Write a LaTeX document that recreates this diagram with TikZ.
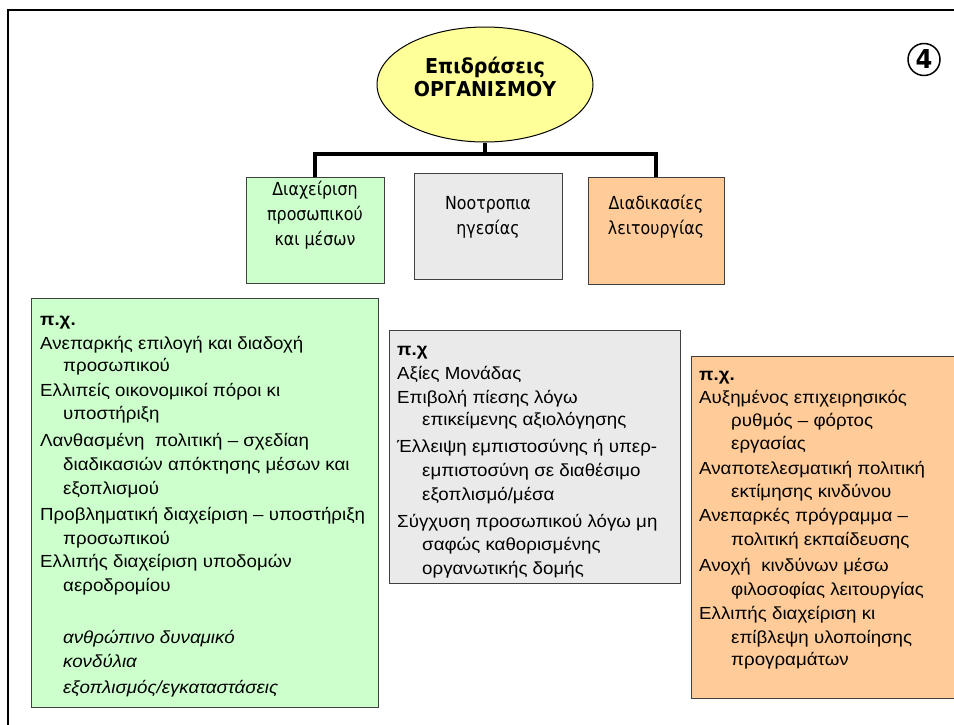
\documentclass[tikz,border=0pt]{standalone}
\usepackage{fontspec}
\setmainfont[FakeStretch=1.07]{Liberation Sans}
\newfontfamily\headfont[FakeStretch=0.88]{DejaVu Sans}
\newfontfamily\titlefont[FakeStretch=0.93]{DejaVu Sans}
\usetikzlibrary{shapes.geometric}

\definecolor{yellowfill}{HTML}{FFFF99}
\definecolor{greenfill}{HTML}{CCFFCC}
\definecolor{grayfill}{HTML}{EAEAEA}
\definecolor{orangefill}{HTML}{FFCC99}
\definecolor{edgegray}{HTML}{404040}

\tikzset{
  frameline/.style={line width=2.5pt, black},
  link/.style={line width=3.5pt, black},
  rootnode/.style={ellipse, draw=black, line width=1pt, fill=yellowfill,
    minimum width=216pt, minimum height=115pt, inner sep=0pt},
  roottext/.style={font=\titlefont\bfseries\fontsize{20.5}{23}\selectfont,
    align=center, inner sep=0pt},
  topbox/.style={rectangle, draw=edgegray, line width=0.9pt, inner sep=0pt},
  toptext/.style={font=\headfont\fontsize{18}{25}\selectfont,
    align=center, inner sep=0pt},
  bigbox/.style={rectangle, draw=edgegray, line width=1pt, inner sep=0pt},
  bodytext/.style={font=\fontsize{17.5}{22}\selectfont, inner sep=0pt,
    anchor=base west},
}

\begin{document}
\begin{tikzpicture}[x=1pt,y=-1pt]
\path[use as bounding box] (0,0) rectangle (954,724);
\fill[white] (0,0) rectangle (954,724);

% page frame (left and top edges)
\draw[frameline] (8,725) -- (8,10) -- (956,10);

% central ellipse
\node[rootnode] (root) at (485,84.5) {};
\node[roottext] (rootlbl) at (485,76.5) {Επιδράσεις\\ΟΡΓΑΝΙΣΜΟΥ};

% section number
\node[circle, draw=black, line width=1.5pt, minimum size=32pt, inner sep=0pt,
  font=\titlefont\bfseries\fontsize{26}{26}\selectfont] (num) at (924,59.5) {4};

% three category boxes
\node[topbox, fill=greenfill, minimum width=138pt, minimum height=106pt] (t1) at (315,230) {};
\node[topbox, fill=grayfill, minimum width=148pt, minimum height=106pt] (t2) at (488,226) {};
\node[topbox, fill=orangefill, minimum width=136pt, minimum height=107pt] (t3) at (656,230.5) {};
\node[toptext] (t1txt) at (315,215) {Διαχείριση\\προσωπικού\\και μέσων};
\node[toptext] (t2txt) at (488,217) {Νοοτροπια\\ηγεσίας};
\node[toptext] (t3txt) at (656,217) {Διαδικασίες\\λειτουργίας};

% tree connector
\coordinate (bar) at (0,154);
\draw[link] (root.south) -- (root.south |- bar) -| (t1.north);
\draw[link] (root.south |- bar) -| (t3.north);

% example boxes
\node[bigbox, fill=greenfill, minimum width=347pt, minimum height=409pt] (b1) at (204.5,502.5) {};
\node[bigbox, fill=grayfill, minimum width=291pt, minimum height=253pt] (b2) at (534.5,456.5) {};
\node[bigbox, fill=orangefill, minimum width=272pt, minimum height=342pt] (b3) at (827,527) {};

% green box text
\foreach \yy/\xx/\tx [count=\k] in {
  325/40/{\bfseries π.χ.},
  349/40/{Ανεπαρκής επιλογή και διαδοχή},
  371/63/{προσωπικού},
  396/40/{Ελλιπείς οικονομικοί πόροι κι},
  419/63/{υποστήριξη},
  446/40/{Λανθασμένη\ \ πολιτική – σχεδίαη},
  470/63/{διαδικασιών απόκτησης μέσων και},
  494/63/{εξοπλισμού},
  520/40/{Προβληματική διαχείριση – υποστήριξη},
  544/63/{προσωπικού},
  567/40/{Ελλιπής διαχείριση υποδομών},
  591/63/{αεροδρομίου},
  643/63/{\itshape ανθρώπινο δυναμικό},
  667/63/{\itshape κονδύλια},
  693/63/{\itshape εξοπλισμός/εγκαταστάσεις}}
  \node[bodytext, name=g\k] at (\xx,\yy) {\tx};

% gray box text
\foreach \yy/\xx/\tx [count=\k] in {
  355/397/{\bfseries π.χ},
  379/397/{Αξίες Μονάδας},
  403/397/{Επιβολή πίεσης λόγω},
  425/422/{επικείμενης αξιολόγησης},
  452/397/{Έλλειψη εμπιστοσύνης ή υπερ-},
  476/422/{εμπιστοσύνη σε διαθέσιμο},
  500/422/{εξοπλισμό/μέσα},
  527/397/{Σύγχυση προσωπικού λόγω μη},
  550/422/{σαφώς καθορισμένης},
  574/422/{οργανωτικής δομής}}
  \node[bodytext, name=m\k] at (\xx,\yy) {\tx};

% orange box text
\foreach \yy/\xx/\tx [count=\k] in {
  380/699/{\bfseries π.χ.},
  403/699/{Αυξημένος επιχειρησικός},
  426/731/{ρυθμός – φόρτος},
  449/731/{εργασίας},
  474/699/{Αναποτελεσματική πολιτική},
  497/731/{εκτίμησης κινδύνου},
  521/699/{Ανεπαρκές πρόγραμμα –},
  545/731/{πολιτική εκπαίδευσης},
  571/699/{Ανοχή\ \ κινδύνων μέσω},
  595/731/{φιλοσοφίας λειτουργίας},
  619/699/{Ελλιπής διαχείριση κι},
  643/731/{επίβλεψη υλοποίησης},
  665/731/{προγραμάτων}}
  \node[bodytext, name=o\k] at (\xx,\yy) {\tx};
\end{tikzpicture}
\end{document}
